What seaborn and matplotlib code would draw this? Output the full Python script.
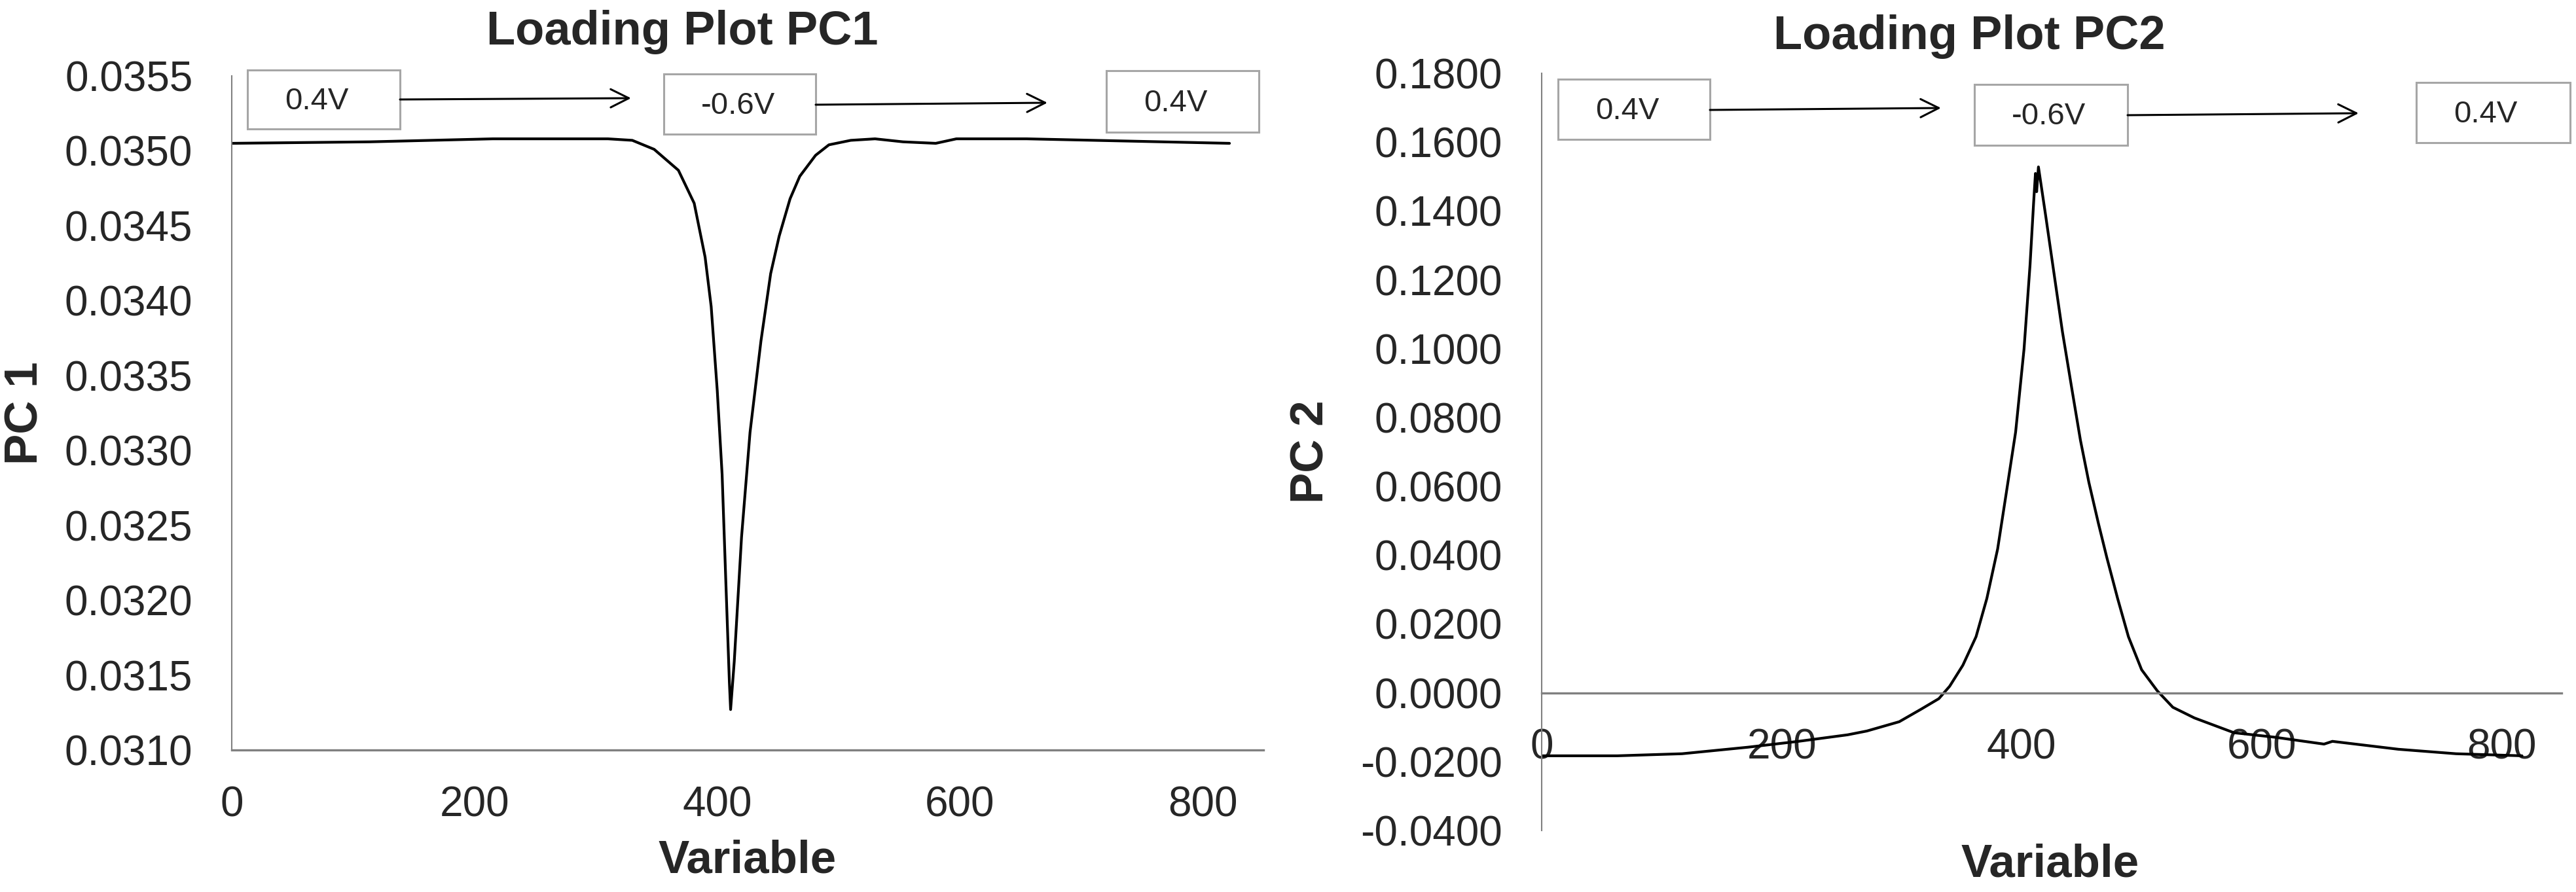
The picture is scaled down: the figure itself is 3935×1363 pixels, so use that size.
# Loading plots PC1 / PC2
import pandas as pd
import matplotlib.pyplot as plt
import seaborn as sns
from matplotlib.patches import Rectangle, FancyArrowPatch
from matplotlib.ticker import FormatStrFormatter

sns.set_style('white')
plt.rcParams['font.family'] = ['Liberation Sans', 'DejaVu Sans']

# data
pc1_x = [0, 114, 215, 282, 310, 330, 348, 368, 381, 390, 395, 400, 404, 407, 410, 411,
         414, 420, 427, 436, 444, 451, 460, 468, 481, 492, 510, 530, 553, 580, 597, 655, 822]
pc1_y = [0.03505, 0.03506, 0.03508, 0.03508, 0.03508, 0.03507, 0.03501, 0.03487, 0.03465,
         0.03429, 0.03396, 0.03340, 0.03284, 0.03214, 0.03145, 0.03127, 0.03159, 0.03242,
         0.03312, 0.03373, 0.03418, 0.03443, 0.03468, 0.03483, 0.03497, 0.03504, 0.03507,
         0.03508, 0.03506, 0.03505, 0.03508, 0.03508, 0.03505]

pc2_x = [0, 63, 117, 172, 214, 255, 271, 298, 316, 331, 340, 351, 362, 371, 380, 387, 395,
         402, 407, 410, 411.5, 412.5, 414, 420, 427, 434, 442, 449, 456, 464, 471, 480, 489,
         500, 513, 526, 544, 577, 611, 652, 659, 714, 762, 817]
pc2_y = [-0.0183, -0.0183, -0.0177, -0.0158, -0.0141, -0.0122, -0.0111, -0.0084, -0.0048,
         -0.0017, 0.0019, 0.0080, 0.0163, 0.0274, 0.0418, 0.0576, 0.0758, 0.0999, 0.1243,
         0.1425, 0.1509, 0.1456, 0.1528, 0.1387, 0.1218, 0.1049, 0.0880, 0.0734, 0.0612,
         0.0492, 0.0393, 0.0274, 0.0163, 0.0067, 0.0006, -0.0042, -0.0073, -0.0116,
         -0.0129, -0.0149, -0.0141, -0.0164, -0.0177, -0.0183]

x_ticks = [0, 200, 400, 600, 800]
pc1_ticks = [0.0310, 0.0315, 0.0320, 0.0325, 0.0330, 0.0335, 0.0340, 0.0345, 0.0350, 0.0355]
pc2_ticks = [-0.04, -0.02, 0.0, 0.02, 0.04, 0.06, 0.08, 0.10, 0.12, 0.14, 0.16, 0.18]
box_labels = ['0.4V', '-0.6V', '0.4V']

df1 = pd.DataFrame({'Variable': pc1_x, 'PC 1': pc1_y})
df2 = pd.DataFrame({'Variable': pc2_x, 'PC 2': pc2_y})

W, H = 3935, 1363
fig = plt.figure(figsize=(W / 100, H / 100), dpi=100)

def fx(x):
    return x / W

def fy(y):
    return 1 - y / H

gray = '#808080'

# left plot
ax1 = fig.add_axes([fx(354), fy(1146), (1930 - 354) / W, (1146 - 116) / H])
sns.lineplot(data=df1, x='Variable', y='PC 1', ax=ax1, color='black', lw=3, estimator=None)
ax1.set_xlim(0, 850)
ax1.set_ylim(0.0310, 0.0355)
ax1.set_xticks(x_ticks)
ax1.set_yticks(pc1_ticks)
ax1.yaxis.set_major_formatter(FormatStrFormatter('%.4f'))
for s in ['top', 'right']:
    ax1.spines[s].set_visible(False)
ax1.spines['left'].set_color(gray)
ax1.spines['left'].set_linewidth(1.5)
ax1.spines['bottom'].set_color(gray)
ax1.spines['bottom'].set_linewidth(2.4)
ax1.tick_params(axis='x', length=0, pad=39, labelsize=46)
ax1.tick_params(axis='y', length=0, pad=43, labelsize=46)
ax1.set_xlabel('')
ax1.set_ylabel('')

# right plot
ax2 = fig.add_axes([fx(2355), fy(1269), (3913 - 2355) / W, (1269 - 112) / H])
sns.lineplot(data=df2, x='Variable', y='PC 2', ax=ax2, color='black', lw=3, estimator=None)
ax2.set_xlim(0, 850)
ax2.set_ylim(-0.04, 0.18)
ax2.set_xticks(x_ticks)
ax2.set_yticks(pc2_ticks)
ax2.yaxis.set_major_formatter(FormatStrFormatter('%.4f'))
for s in ['top', 'right']:
    ax2.spines[s].set_visible(False)
ax2.spines['bottom'].set_position(('data', 0))
ax2.spines['left'].set_color(gray)
ax2.spines['left'].set_linewidth(1.5)
ax2.spines['bottom'].set_color(gray)
ax2.spines['bottom'].set_linewidth(2.4)
ax2.tick_params(axis='x', length=0, pad=39, labelsize=46)
ax2.tick_params(axis='y', length=0, pad=43, labelsize=46)
ax2.set_xlabel('')
ax2.set_ylabel('')

# titles and axis titles
fig.text(fx(1042), fy(68), 'Loading Plot PC1', ha='center', va='baseline', fontsize=52, weight='bold')
fig.text(fx(3008), fy(75), 'Loading Plot PC2', ha='center', va='baseline', fontsize=52, weight='bold')
fig.text(fx(1142), fy(1316), 'Variable', ha='center', va='center', fontsize=51, weight='bold')
fig.text(fx(3132), fy(1322), 'Variable', ha='center', va='center', fontsize=51, weight='bold')
fig.text(fx(40), fy(631), 'PC 1', ha='center', va='center', rotation=90, fontsize=51, weight='bold')
fig.text(fx(2004), fy(690), 'PC 2', ha='center', va='center', rotation=90, fontsize=51, weight='bold')

# potential boxes (x0, y0, x1, y1 in pixels) and arrows between them
boxes = [
    [(378, 107, 611, 197), (1014, 113, 1246, 205), (1690, 108, 1923, 202)],
    [(2380, 121, 2612, 213), (3016, 129, 3250, 222), (3691, 126, 3926, 218)],
]
arrows = [
    [((611, 152), (964, 150)), ((1246, 160), (1600, 157))],
    [((2612, 168), (2965, 165)), ((3250, 176), (3603, 173))],
]
for row in boxes:
    for (x0, y0, x1, y1), lab in zip(row, box_labels):
        fig.add_artist(Rectangle((fx(x0), fy(y1)), (x1 - x0) / W, (y1 - y0) / H,
                                 transform=fig.transFigure, facecolor='white',
                                 edgecolor='#a6a6a6', lw=2.2))
        fig.text(fx(x0 + 57), fy((y0 + y1) / 2 + 3), lab, ha='left', va='center', fontsize=34)
for row in arrows:
    for (xa, ya), (xb, yb) in row:
        fig.add_artist(FancyArrowPatch((fx(xa), fy(ya)), (fx(xb), fy(yb)),
                                       transform=fig.transFigure, arrowstyle='->',
                                       lw=2.2, color='black', mutation_scale=50,
                                       shrinkA=0, shrinkB=0))

plt.savefig('out.png', dpi=100)
